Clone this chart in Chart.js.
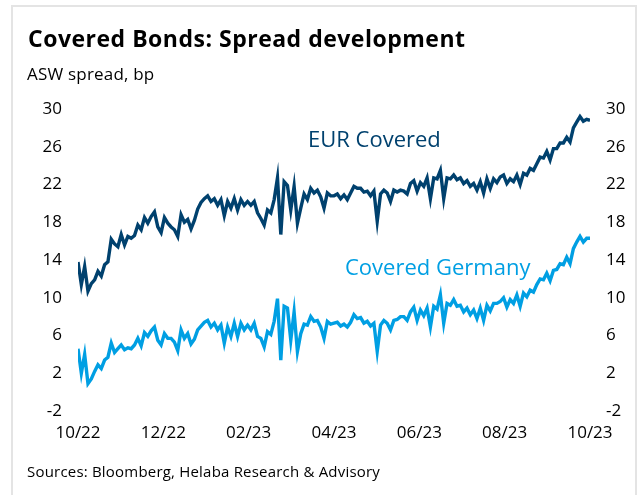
<!DOCTYPE html>
<html>
<head>
<meta charset="utf-8">
<script src="https://cdn.jsdelivr.net/npm/chart.js@4/dist/chart.umd.min.js"></script>
<style>
  body { margin: 0; background: #fff; }
  #wrap { position: relative; width: 640px; height: 495px; overflow: hidden; font-family: "Open Sans", sans-serif; }
  #frame { position: absolute; left: 11px; top: 5px; width: 626px; height: 500px; border: 2px solid #e4e4e4; box-sizing: border-box; }
  .txt { position: absolute; white-space: nowrap; }
  #title { left: 28px; top: 27px; font-size: 23px; line-height: 22px; font-weight: bold; letter-spacing: 0.5px; color: #000; }
  #sub { left: 27px; top: 66px; font-size: 17px; line-height: 16px; letter-spacing: 0.2px; color: #000; }
  #src { left: 27px; top: 464px; font-size: 15px; line-height: 15px; letter-spacing: 0.2px; color: #000; }
  #lblEur { left: 308px; top: 128px; font-size: 22px; line-height: 21px; color: #00416e; }
  #lblGer { left: 345px; top: 256px; font-size: 22px; line-height: 21px; color: #009fe3; }
  canvas { position: absolute; left: 0; top: 0; }
</style>
</head>
<body>
<div id="wrap">
  <div id="frame"></div>
  <canvas id="spreadChart" width="640" height="495"></canvas>
  <div class="txt" id="title">Covered Bonds: Spread development</div>
  <div class="txt" id="sub">ASW spread, bp</div>
  <div class="txt" id="lblEur">EUR Covered</div>
  <div class="txt" id="lblGer">Covered Germany</div>
  <div class="txt" id="src">Sources: Bloomberg, Helaba Research &amp; Advisory</div>
</div>
<script>
const tickLabels = ["10/22", "12/22", "02/23", "04/23", "06/23", "08/23", "10/23"];
const monthsShown = 12;

// EUR Covered (Oct 2022 - Oct 2023)
const eurCovered = [
    13.8, 11.4, 13.3, 10.7, 11.5, 11.9, 12.8, 12.3, 13.5, 13.8,
    16.2, 15.7, 15.4, 16.7, 15.6, 16.5, 16.3, 16.6, 17.7, 17.2,
    18.5, 17.9, 18.6, 19.1, 17.5, 16.9, 18.5, 17.9, 17.5, 17.2,
    16.5, 18.8, 18.0, 18.3, 17.3, 18.2, 19.4, 20.1, 20.5, 20.8,
    20.2, 20.5, 19.8, 20.4, 18.7, 20.2, 19.5, 20.5, 19.3, 20.4,
    19.8, 20.2, 19.8, 20.2, 19.0, 18.4, 17.7, 19.3, 19.0, 20.4,
    22.7, 16.7, 22.3, 21.9, 19.3, 21.8, 17.9, 19.5, 21.0, 20.4,
    21.6, 21.1, 21.4, 20.7, 19.5, 21.1, 20.8, 20.8, 21.0, 20.5,
    20.9, 20.4, 21.1, 21.8, 21.6, 21.6, 21.2, 21.3, 20.8, 21.3,
    18.1, 21.0, 21.4, 21.1, 20.2, 21.4, 21.2, 21.4, 21.3, 21.0,
    22.1, 22.4, 21.3, 22.2, 21.8, 22.7, 20.5, 22.7, 22.6, 23.5,
    20.5, 22.7, 22.6, 23.0, 22.5, 22.7, 22.1, 22.4, 21.8, 22.1,
    21.4, 22.3, 21.1, 22.6, 21.6, 22.6, 22.2, 22.8, 23.0, 22.1,
    22.6, 22.3, 23.0, 22.0, 23.2, 23.0, 23.7, 23.5, 24.2, 24.9,
    24.8, 25.5, 24.6, 25.8, 25.8, 26.4, 26.4, 27.0, 26.5, 28.0,
    28.6, 29.2, 28.7, 28.9, 28.8
];

// Covered Germany
const coveredGermany = [
    4.6, 2.0, 4.0, 0.9, 1.4, 2.2, 2.9, 2.5, 3.4, 3.7,
    5.2, 4.2, 4.6, 5.0, 4.5, 4.7, 4.6, 5.0, 5.7, 4.9,
    6.3, 5.9, 6.5, 6.9, 5.5, 5.0, 6.2, 5.7, 5.7, 5.3,
    4.4, 6.6, 5.7, 6.2, 5.1, 5.6, 6.6, 7.0, 7.4, 7.6,
    6.9, 7.3, 6.6, 7.1, 5.2, 6.9, 5.9, 7.3, 5.9, 7.3,
    6.6, 7.1, 6.6, 7.3, 5.9, 5.7, 4.8, 6.4, 6.1, 7.5,
    9.9, 3.4, 9.1, 8.9, 5.5, 8.5, 4.3, 6.2, 7.2, 7.1,
    8.0, 7.5, 7.6, 6.9, 5.7, 7.5, 7.2, 7.3, 7.4, 7.0,
    7.2, 6.9, 7.4, 8.2, 7.8, 7.9, 7.3, 7.5, 7.0, 7.3,
    4.3, 7.1, 7.6, 7.3, 6.6, 7.6, 7.7, 8.0, 8.0, 7.6,
    8.5, 9.0, 7.6, 8.7, 8.1, 8.9, 6.9, 9.1, 8.8, 10.3,
    7.3, 9.4, 9.2, 9.8, 9.1, 9.2, 8.5, 8.9, 8.2, 8.7,
    7.8, 8.9, 7.6, 9.2, 8.6, 9.4, 9.4, 9.6, 10.0, 9.0,
    9.8, 9.4, 10.3, 9.1, 10.5, 10.1, 10.8, 10.6, 11.4, 12.0,
    11.9, 12.6, 11.8, 12.9, 13.0, 13.6, 13.5, 14.3, 13.6, 15.2,
    15.9, 16.5, 15.9, 16.3, 16.3
];

// spread the observations evenly over the 12 months shown
const toPoints = values =>
    values.map((v, i) => ({ x: i * monthsShown / (values.length - 1), y: v }));

const tickFont = { family: "Open Sans", size: 17 };

const yAxis = (position, width) => ({
    position: position,
    min: -2,
    max: 30,
    grid: { display: false, drawTicks: false },
    border: { display: false },
    ticks: { stepSize: 4, padding: 16, color: "#000", font: tickFont },
    afterFit: scale => { scale.width = width; }
});

new Chart(document.getElementById("spreadChart"), {
    type: "line",
    data: {
        datasets: [
            {
                label: "EUR Covered",
                data: toPoints(eurCovered),
                borderColor: "#00416e",
                borderWidth: 3.4,
                pointRadius: 0,
                tension: 0
            },
            {
                label: "Covered Germany",
                data: toPoints(coveredGermany),
                borderColor: "#009fe3",
                borderWidth: 3.4,
                pointRadius: 0,
                tension: 0
            }
        ]
    },
    options: {
        responsive: false,
        animation: false,
        layout: { padding: { top: 109, bottom: 44, left: 0, right: 0 } },
        plugins: {
            legend: { display: false },
            tooltip: { enabled: false }
        },
        scales: {
            x: {
                type: "linear",
                min: 0,
                max: monthsShown,
                grid: { display: false, drawTicks: false },
                border: { display: false },
                ticks: {
                    stepSize: 2,
                    padding: 12,
                    color: "#000",
                    font: tickFont,
                    maxRotation: 0,
                    callback: (value, index) => tickLabels[index]
                },
                afterFit: scale => { scale.height = 40; }
            },
            y: yAxis("left", 78),
            y2: yAxis("right", 50)
        }
    }
});
</script>
</body>
</html>
